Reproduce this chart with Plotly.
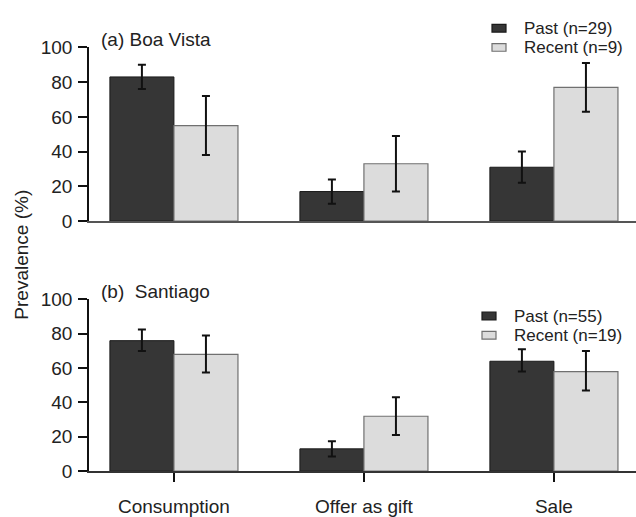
import plotly.graph_objects as go

categories = ["Consumption", "Offer as gift", "Sale"]

# Panel (a) Boa Vista
bv_past = [83, 17, 31]
bv_past_hi = [90, 24, 40]
bv_past_lo = [76, 10, 22]
bv_recent = [55, 33, 77]
bv_recent_hi = [72, 49, 91]
bv_recent_lo = [38, 17, 63]

# Panel (b) Santiago
sa_past = [76, 13, 64]
sa_past_hi = [82.5, 17.5, 71]
sa_past_lo = [70, 8.5, 58]
sa_recent = [68, 32, 58]
sa_recent_hi = [79, 43, 70]
sa_recent_lo = [57.5, 21, 47]

yticks = [0, 20, 40, 60, 80, 100]

DARK = "#363636"
LIGHT = "#dcdcdc"
DARK_EDGE = "#1a1a1a"
LIGHT_EDGE = "#707070"
FONT = "Liberation Sans, Arial, sans-serif"
FS = 19
LFS = 17
TXT = "#222222"
W, H = 636, 517


def err(vals, hi, lo):
    return dict(type="data", symmetric=False,
                array=[h - v for h, v in zip(hi, vals)],
                arrayminus=[v - l for l, v in zip(lo, vals)],
                color="#111111", thickness=2, width=4)


fig = go.Figure()
panels = [
    ("x", "y", bv_past, bv_past_hi, bv_past_lo, bv_recent, bv_recent_hi, bv_recent_lo, 29, 9),
    ("x2", "y2", sa_past, sa_past_hi, sa_past_lo, sa_recent, sa_recent_hi, sa_recent_lo, 55, 19),
]
for xa, ya, p, ph, pl, r, rh, rl, n1, n2 in panels:
    fig.add_trace(go.Bar(x=categories, y=p, name=f"Past (n={n1})", xaxis=xa, yaxis=ya,
                         marker=dict(color=DARK, line=dict(color=DARK_EDGE, width=1)),
                         error_y=err(p, ph, pl), showlegend=False))
    fig.add_trace(go.Bar(x=categories, y=r, name=f"Recent (n={n2})", xaxis=xa, yaxis=ya,
                         marker=dict(color=LIGHT, line=dict(color=LIGHT_EDGE, width=1.2)),
                         error_y=err(r, rh, rl), showlegend=False))

xrange = [-0.447, 2.432]
xdom = [89 / W, 1.0]
top_dom = [(H - 220) / H, (H - 39) / H]
bot_dom = [(H - 480.7) / H, (H - 301.7) / H]

common_y = dict(range=[0, 100], tickvals=yticks, showline=True, linecolor="#111111", linewidth=1.5,
                ticks="outside", ticklen=9, tickwidth=1.5, tickcolor="#111111", showgrid=False,
                zeroline=False, tickfont=dict(family=FONT, size=FS, color=TXT),
                ticklabelstandoff=2)

# manual legends (pixel positions converted to paper coords)
legend_items = [
    # (square x0, text x, y centre, label, fill, edge)
    (492, 523, 19, "Past (n=29)", DARK, DARK_EDGE),
    (492, 523, 39, "Recent (n=9)", LIGHT, LIGHT_EDGE),
    (482, 513, 319, "Past (n=55)", DARK, DARK_EDGE),
    (482, 513, 339, "Recent (n=19)", LIGHT, LIGHT_EDGE),
]
shapes = []
annotations = []
for sx, tx, yc, label, fill, edge in legend_items:
    shapes.append(dict(type="rect", xref="paper", yref="paper",
                       x0=sx / W, x1=(sx + 14) / W, y0=1 - (yc - 4) / H, y1=1 - (yc + 4) / H,
                       fillcolor=fill, line=dict(color=edge, width=1.2)))
    annotations.append(dict(text=label, x=tx / W, y=1 - yc / H, xref="paper", yref="paper",
                            xanchor="left", yanchor="middle", showarrow=False, borderpad=0,
                            font=dict(family=FONT, size=LFS, color=TXT)))

annotations += [
    dict(text="(a) Boa Vista", x=99 / W, y=1 - 31 / H, xref="paper", yref="paper",
         xanchor="left", yanchor="middle", showarrow=False, font=dict(family=FONT, size=FS, color=TXT)),
    dict(text="(b)  Santiago", x=99 / W, y=1 - 293 / H, xref="paper", yref="paper",
         xanchor="left", yanchor="middle", showarrow=False, font=dict(family=FONT, size=FS, color=TXT)),
    dict(text="Prevalence (%)", x=22 / W, y=1 - 255 / H, xref="paper", yref="paper",
         xanchor="center", yanchor="middle", textangle=-90, showarrow=False,
         font=dict(family=FONT, size=FS, color=TXT)),
]

fig.update_layout(
    width=W, height=H,
    margin=dict(l=0, r=0, t=0, b=0),
    paper_bgcolor="white", plot_bgcolor="white",
    barmode="group", bargap=0.326, bargroupgap=0,
    font=dict(family=FONT, size=FS, color=TXT),
    xaxis=dict(domain=xdom, range=xrange, anchor="y", showline=True, linecolor="#555555", linewidth=1.5,
               showticklabels=False, ticks="", showgrid=False, zeroline=False),
    yaxis=dict(domain=top_dom, anchor="x", **common_y),
    xaxis2=dict(domain=xdom, range=xrange, anchor="y2", showline=True, linecolor="#333333", linewidth=1.5,
                ticks="outside", ticklen=9, tickwidth=1.5, tickcolor="#111111", showgrid=False,
                zeroline=False, tickfont=dict(family=FONT, size=FS, color=TXT),
                ticklabelstandoff=8),
    yaxis2=dict(domain=bot_dom, anchor="x2", **common_y),
    showlegend=False,
    shapes=shapes,
    annotations=annotations,
)

fig.write_html("out.html")
